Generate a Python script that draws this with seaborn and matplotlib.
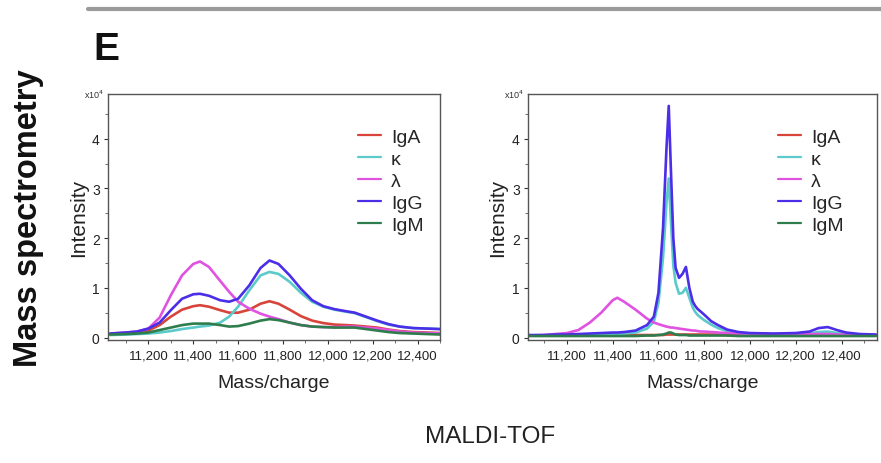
import matplotlib
matplotlib.use("Agg")
import matplotlib.pyplot as plt
from matplotlib.ticker import MultipleLocator, FuncFormatter
import seaborn as sns
import pandas as pd

# ---------------- data ----------------
series = ["IgA", "κ", "λ", "IgG", "IgM"]
colors = {"IgA": "#d8443a", "κ": "#5ccaca", "λ": "#e052e0", "IgG": "#4a2ee8", "IgM": "#2f7d4c"}

left_mz = [11030, 11100, 11150, 11200, 11250, 11300, 11350, 11400, 11430, 11470,
           11520, 11560, 11600, 11650, 11700, 11740, 11780, 11830, 11880, 11930,
           11980, 12030, 12080, 12120, 12170, 12220, 12270, 12320, 12380, 12440, 12500]
left_IgA = [0.06, 0.08, 0.10, 0.14, 0.25, 0.42, 0.56, 0.63, 0.65, 0.62,
            0.55, 0.50, 0.50, 0.56, 0.68, 0.73, 0.68, 0.56, 0.43, 0.34,
            0.29, 0.26, 0.25, 0.24, 0.22, 0.20, 0.16, 0.13, 0.11, 0.10, 0.09]
left_kappa = [0.05, 0.06, 0.07, 0.08, 0.10, 0.13, 0.17, 0.20, 0.22, 0.24,
              0.30, 0.42, 0.62, 0.95, 1.25, 1.32, 1.28, 1.12, 0.90, 0.72,
              0.62, 0.56, 0.52, 0.49, 0.41, 0.33, 0.26, 0.22, 0.19, 0.18, 0.17]
left_lambda = [0.08, 0.10, 0.12, 0.18, 0.40, 0.85, 1.25, 1.48, 1.53, 1.42,
               1.14, 0.92, 0.72, 0.58, 0.48, 0.42, 0.37, 0.30, 0.25, 0.22,
               0.21, 0.21, 0.22, 0.22, 0.20, 0.18, 0.15, 0.12, 0.10, 0.09, 0.08]
left_IgG = [0.08, 0.10, 0.12, 0.18, 0.30, 0.55, 0.78, 0.87, 0.88, 0.84,
            0.75, 0.72, 0.78, 1.05, 1.40, 1.55, 1.48, 1.25, 0.98, 0.75,
            0.63, 0.57, 0.53, 0.50, 0.42, 0.34, 0.27, 0.22, 0.19, 0.18, 0.17]
left_IgM = [0.06, 0.07, 0.08, 0.10, 0.15, 0.20, 0.25, 0.28, 0.28, 0.28,
            0.25, 0.22, 0.23, 0.28, 0.34, 0.37, 0.35, 0.30, 0.25, 0.22,
            0.21, 0.20, 0.20, 0.20, 0.17, 0.14, 0.11, 0.09, 0.08, 0.07, 0.06]

right_mz = [11030, 11100, 11150, 11200, 11250, 11300, 11350, 11400, 11420, 11450,
            11500, 11550, 11580, 11600, 11620, 11635, 11645, 11655, 11665, 11675,
            11690, 11705, 11720, 11735, 11750, 11760, 11770, 11785, 11800, 11830,
            11860, 11900, 11950, 12000, 12100, 12200, 12260, 12300, 12340, 12380,
            12420, 12480, 12550]
right_IgA = [0.04, 0.04, 0.04, 0.04, 0.04, 0.04, 0.04, 0.05, 0.05, 0.05,
             0.05, 0.05, 0.05, 0.05, 0.05, 0.06, 0.06, 0.06, 0.06, 0.06,
             0.06, 0.06, 0.06, 0.06, 0.06, 0.06, 0.06, 0.06, 0.06, 0.06,
             0.06, 0.05, 0.05, 0.05, 0.05, 0.05, 0.05, 0.05, 0.05, 0.05,
             0.05, 0.05, 0.05]
right_kappa = [0.04, 0.04, 0.05, 0.05, 0.05, 0.06, 0.06, 0.07, 0.07, 0.08,
               0.10, 0.18, 0.32, 0.70, 1.60, 2.70, 3.20, 2.30, 1.45, 1.10,
               0.88, 0.90, 1.00, 0.80, 0.60, 0.52, 0.46, 0.40, 0.35, 0.26,
               0.19, 0.13, 0.09, 0.07, 0.06, 0.07, 0.08, 0.11, 0.12, 0.09,
               0.07, 0.05, 0.05]
right_lambda = [0.04, 0.05, 0.07, 0.09, 0.15, 0.30, 0.50, 0.75, 0.80, 0.72,
                0.56, 0.38, 0.30, 0.27, 0.24, 0.22, 0.21, 0.20, 0.20, 0.19,
                0.18, 0.17, 0.16, 0.15, 0.14, 0.14, 0.13, 0.12, 0.12, 0.11,
                0.10, 0.09, 0.08, 0.08, 0.07, 0.07, 0.07, 0.07, 0.07, 0.06,
                0.06, 0.06, 0.05]
right_IgG = [0.05, 0.05, 0.06, 0.06, 0.07, 0.08, 0.09, 0.10, 0.10, 0.11,
             0.14, 0.25, 0.42, 0.90, 2.20, 3.80, 4.66, 3.30, 2.00, 1.40,
             1.20, 1.28, 1.42, 1.00, 0.72, 0.64, 0.58, 0.52, 0.46, 0.33,
             0.25, 0.16, 0.11, 0.09, 0.08, 0.09, 0.12, 0.19, 0.21, 0.15,
             0.10, 0.07, 0.06]
right_IgM = [0.03, 0.03, 0.03, 0.03, 0.03, 0.03, 0.03, 0.03, 0.03, 0.03,
             0.03, 0.04, 0.04, 0.05, 0.06, 0.08, 0.10, 0.10, 0.08, 0.06,
             0.05, 0.05, 0.05, 0.04, 0.04, 0.04, 0.04, 0.04, 0.04, 0.04,
             0.04, 0.04, 0.03, 0.03, 0.03, 0.03, 0.03, 0.03, 0.03, 0.03,
             0.03, 0.03, 0.03]

x_ticks = [11200, 11400, 11600, 11800, 12000, 12200, 12400]
y_ticks = [0, 1, 2, 3, 4]


def long_frame(mz, cols):
    rows = []
    for name, vals in zip(series, cols):
        for m, v in zip(mz, vals):
            rows.append({"mz": m, "intensity": v, "series": name})
    return pd.DataFrame(rows)


left_df = long_frame(left_mz, [left_IgA, left_kappa, left_lambda, left_IgG, left_IgM])
right_df = long_frame(right_mz, [right_IgA, right_kappa, right_lambda, right_IgG, right_IgM])

# ---------------- figure ----------------
sns.set_theme(style="ticks")
plt.rcParams["font.family"] = ["Liberation Sans", "DejaVu Sans"]

W, H = 881, 464
fig = plt.figure(figsize=(W / 100, H / 100), dpi=100)


def box(l, t, r, b):
    return [l / W, 1 - b / H, (r - l) / W, (b - t) / H]


axL = fig.add_axes(box(108, 95, 440, 341))
axR = fig.add_axes(box(528, 95, 877, 341))

panels = [(axL, left_df, (11020, 12500), 0.753), (axR, right_df, (11030, 12555), 0.716)]
for ax, df, xl, lx in panels:
    sns.lineplot(data=df, x="mz", y="intensity", hue="series", hue_order=series,
                 palette=colors, linewidth=1.9, ax=ax, legend=True)
    for ln in ax.get_lines():
        ln.set_solid_joinstyle("round")
    ax.set_xlim(*xl)
    ax.set_ylim(-0.05, 4.9)
    ax.set_xticks(x_ticks)
    ax.xaxis.set_major_formatter(FuncFormatter(lambda v, p: f"{int(v):,}"))
    ax.xaxis.set_minor_locator(MultipleLocator(100))
    ax.set_yticks(y_ticks)
    ax.yaxis.set_minor_locator(MultipleLocator(0.5))
    ax.tick_params(axis="x", which="major", labelsize=9.5, length=3, width=0.8,
                   colors="#333333", labelcolor="#222222", pad=4)
    ax.tick_params(axis="y", which="major", labelsize=10, length=3, width=0.8,
                   colors="#333333", labelcolor="#222222", pad=3)
    ax.tick_params(axis="both", which="minor", length=2, width=0.6, colors="#555555")
    for s in ax.spines.values():
        s.set_visible(True)
        s.set_color("#555555")
        s.set_linewidth(1.0)
    ax.set_xlabel("Mass/charge", fontsize=14, color="#222222", labelpad=9)
    ax.set_ylabel("Intensity", fontsize=15, color="#222222", labelpad=3)
    ax.text(-0.01, 1.0, "x10$^4$", transform=ax.transAxes, ha="right", va="center",
            fontsize=6.5, color="#333333")
    h, l = ax.get_legend_handles_labels()
    leg = ax.legend(h, l, frameon=False, loc="upper left", bbox_to_anchor=(lx, 0.86),
                    fontsize=14, handlelength=1.2, labelspacing=0.22, handletextpad=0.5,
                    borderpad=0, borderaxespad=0)
    for lh in leg.get_lines():
        lh.set_linewidth(1.6)

# decorations
fig.add_artist(plt.Line2D([88 / W, 1.0], [1 - 10 / H, 1 - 10 / H], color="#9a9a9a",
                          linewidth=3, transform=fig.transFigure))
fig.text(93 / W, 1 - 50 / H, "E", fontsize=28, fontweight="bold", ha="left", va="center",
         color="#111111")
fig.text(29 / W, 1 - 218 / H, "Mass spectrometry", fontsize=23.5, fontweight="bold",
         rotation=90, ha="center", va="center", color="#111111")
fig.text(490 / W, 1 - 437 / H, "MALDI-TOF", fontsize=17.5, ha="center", va="center",
         color="#222222")

fig.savefig("out.png", dpi=100)
